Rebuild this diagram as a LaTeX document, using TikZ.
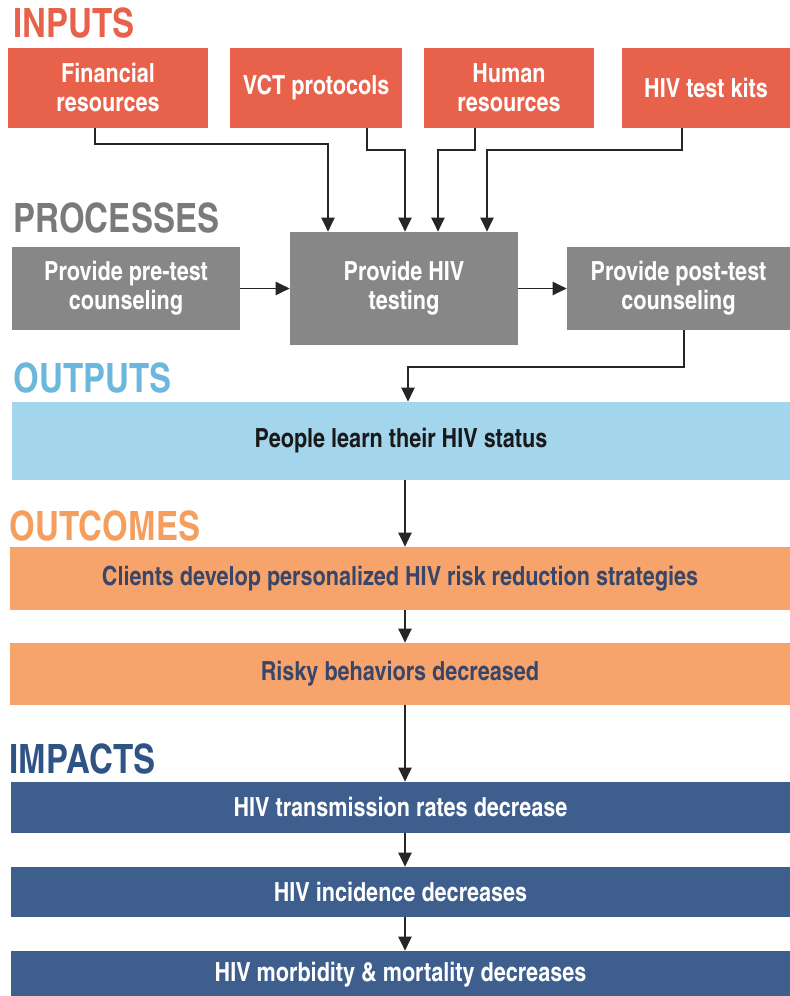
\documentclass[tikz,border=0pt]{standalone}
\usepackage{fontspec}
\setmainfont{texgyreheroscn}[Extension=.otf,UprightFont=*-regular,BoldFont=*-bold]
\usetikzlibrary{arrows.meta,calc}

\definecolor{inred}{HTML}{E8614B}
\definecolor{procgray}{HTML}{878787}
\definecolor{proclabel}{HTML}{7A7A7A}
\definecolor{outblue}{HTML}{A3D5EC}
\definecolor{outlabel}{HTML}{6CB8DC}
\definecolor{ocorange}{HTML}{F6A46C}
\definecolor{oclabel}{HTML}{F59E5E}
\definecolor{imblue}{HTML}{3E5F8D}
\definecolor{imlabel}{HTML}{2F5384}
\definecolor{octext}{HTML}{3A4668}

\tikzset{
  box/.style={inner sep=0pt, align=center, font=\bfseries\fontsize{15}{16.5}\selectfont},
  inbox/.style={box, fill=inred, text=white, minimum height=1.6cm},
  procbox/.style={box, fill=procgray, text=white, minimum height=1.66cm},
  widebox/.style={box, minimum width=15.6cm},
  heading/.style={anchor=base west, inner sep=0pt, font=\bfseries\fontsize{23}{23}\selectfont},
  link/.style={draw=black!85, line width=1.1pt, -{Triangle[length=8pt,width=7.5pt]}}
}

\begin{document}
\begin{tikzpicture}[x=0.02cm,y=-0.02cm]
\useasboundingbox (0,0) rectangle (790,996);

% inputs
\node[heading, text=inred] (hin) at (13,38) {INPUTS};
\node[inbox, minimum width=4cm] (fin) at (108,88) {Financial\\resources};
\node[inbox, minimum width=3.44cm] (vct) at (316,88) {VCT protocols};
\node[inbox, minimum width=3.4cm] (hum) at (509,88) {Human\\resources};
\node[inbox, minimum width=3.36cm] (kit) at (706,88) {HIV test kits};

% processes
\node[heading, text=proclabel] (hproc) at (13,233) {PROCESSES};
\node[procbox, minimum width=4.56cm] (pre) at (126,288.5) {Provide pre-test\\counseling};
\node[procbox, minimum width=4.56cm, minimum height=2.26cm] (tst) at (404,288.5) {Provide HIV\\testing};
\node[procbox, minimum width=4.46cm] (post) at (678.5,288.5) {Provide post-test\\counseling};

% outputs
\node[heading, text=outlabel] (hout) at (13,392) {OUTPUTS};
\node[widebox, fill=outblue, text=black!90, minimum width=15.56cm, minimum height=1.56cm] (out) at (401,441) {People learn their HIV status};

% outcomes
\node[heading, text=oclabel] (hoc) at (9,540) {OUTCOMES};
\node[widebox, fill=ocorange, text=octext, minimum height=1.26cm] (oc1) at (400,578.5) {Clients develop personalized HIV risk reduction strategies};
\node[widebox, fill=ocorange, text=octext, minimum height=1.24cm] (oc2) at (400,674) {Risky behaviors decreased};

% impacts
\node[heading, text=imlabel] (him) at (9,773) {IMPACTS};
\node[widebox, fill=imblue, text=white, minimum height=1.02cm] (im1) at (400.5,807.5) {HIV transmission rates decrease};
\node[widebox, fill=imblue, text=white, minimum height=1cm] (im2) at (400.5,892) {HIV incidence decreases};
\node[widebox, fill=imblue, text=white, minimum height=0.96cm] (im3) at (400.5,975) {HIV morbidity \& mortality decreases};

\coordinate (spine) at (405,0);

% input links
\draw[link] ($(fin.south)+(-13,0)$) -- ++(0,16) -| ($(tst.north)+(-76,0)$);
\draw[link] ($(vct.south)+(51,0)$) -- ++(0,22) -| ($(tst.north)+(1,0)$);
\draw[link] ($(hum.south)+(-34,0)$) -- ++(0,22) -| ($(tst.north)+(34,0)$);
\draw[link] ($(kit.south)+(-24,0)$) -- ++(0,22) -| ($(tst.north)+(83,0)$);

% process links
\draw[link] (pre.east) -- (pre.east -| tst.west);
\draw[link] (tst.east) -- (tst.east -| post.west);
\draw[link] ($(post.south)+(5.5,0)$) -- ++(0,37) -| ($(out.north)+(7,0)$);

% chain
\draw[link] (out.south -| spine) -- (oc1.north -| spine);
\draw[link] (oc1.south -| spine) -- (oc2.north -| spine);
\draw[link] (oc2.south -| spine) -- (im1.north -| spine);
\draw[link] (im1.south -| spine) -- (im2.north -| spine);
\draw[link] (im2.south -| spine) -- (im3.north -| spine);
\end{tikzpicture}
\end{document}
